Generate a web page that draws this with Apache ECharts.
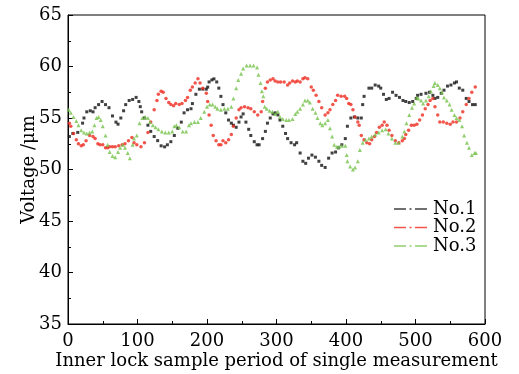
<!DOCTYPE html>
<html><head><meta charset="utf-8">
<script src="https://cdn.jsdelivr.net/npm/echarts@6/dist/echarts.min.js"></script>
<style>html,body{margin:0;padding:0;background:#fff}#c{width:519px;height:374px}</style>
</head><body><div id="c"></div>
<script>
var xTicks = [0,100,200,300,400,500,600];
var yTicks = [35,40,45,50,55,60,65];
var seriesNames = ['No.1','No.2','No.3'];

var n1X = [2,7,14,21,23,27,32,36,39,44,49,54,59,64,69,72,76,80,83,88,93,98,102,104,106,110,115,119,124,129,134,139,143,148,153,158,163,167,172,177,179,184,189,194,199,201,203,207,210,214,217,220,223,227,231,235,238,242,246,249,252,256,260,263,268,272,275,280,284,287,291,295,298,302,305,309,313,316,321,326,329,334,338,342,346,351,356,361,365,370,375,380,385,389,394,399,402,407,412,417,422,424,426,433,437,442,447,450,454,458,462,467,472,477,482,486,491,496,501,503,508,515,520,525,528,532,537,541,546,551,556,559,563,568,573,577,582,586];
var n1Y = [53.2,53.5,53.6,54.5,55.0,55.6,55.7,55.6,56.0,56.3,56.6,56.3,56.0,55.2,54.6,54.4,55.0,55.7,56.3,56.7,56.8,57.0,56.6,56.1,55.6,55.0,54.3,53.7,53.2,52.8,52.3,52.2,52.4,52.7,53.3,54.0,54.6,55.5,55.8,55.9,56.4,57.3,57.8,57.8,57.8,58.0,58.5,58.7,58.8,58.5,57.9,57.1,56.3,55.5,54.8,54.5,54.3,54.1,54.6,55.1,55.4,54.6,53.9,53.3,52.7,52.4,52.4,53.0,53.7,54.5,55.0,55.4,55.5,55.3,54.8,54.2,53.5,53.0,52.6,52.4,52.6,51.6,50.8,50.6,51.1,51.4,51.2,50.8,50.4,50.2,51.1,51.6,51.7,52.1,52.4,53.0,54.2,55.0,55.1,55.0,55.0,56.3,57.1,57.9,57.9,58.2,58.1,57.9,57.3,56.8,56.9,57.5,57.2,57.0,56.7,56.6,56.5,56.6,56.9,57.2,57.3,57.4,57.5,57.2,56.9,57.0,57.4,57.7,58.1,58.2,58.4,58.5,57.9,57.7,56.9,56.6,56.3,56.3];

var n2X = [2,4,8,12,15,19,22,26,31,36,39,43,46,50,54,57,60,64,68,73,78,82,87,92,95,99,105,110,115,119,124,128,130,134,137,141,145,148,152,155,160,164,169,172,176,179,183,187,190,194,199,201,203,206,209,213,217,220,223,227,231,235,238,242,246,249,254,259,263,268,273,278,280,284,287,291,295,298,302,306,311,316,319,323,327,330,334,338,341,345,350,353,357,361,365,370,374,377,381,385,388,393,398,401,404,407,410,413,417,419,422,426,430,434,437,441,444,448,452,455,459,462,466,471,476,481,484,486,490,494,498,502,506,510,514,518,521,525,528,532,535,540,545,550,554,559,564,568,573,577,581,586];
var n2Y = [54.5,54.2,53.5,52.9,52.5,52.3,52.4,52.8,53.3,53.2,53.0,52.5,52.4,52.4,52.1,52.1,52.2,52.2,52.2,52.3,52.4,52.5,52.8,53.1,52.6,52.4,52.2,52.6,53.6,54.6,55.8,56.7,57.3,57.6,57.5,56.9,56.5,56.3,56.2,56.4,56.3,56.4,56.7,57.0,57.7,58.0,58.4,58.8,58.4,57.9,57.4,56.6,55.3,54.3,53.3,52.8,52.4,52.4,52.8,52.6,52.9,53.4,54.2,55.0,55.8,56.0,56.1,56.0,55.9,55.6,55.3,55.6,56.6,57.9,58.5,58.7,58.8,58.6,58.5,58.5,58.5,58.2,58.4,58.6,58.5,58.6,58.5,58.8,58.9,58.8,58.0,57.7,57.2,56.6,56.0,55.3,55.5,55.8,56.3,56.7,57.2,57.1,57.1,56.9,56.4,56.3,55.8,55.1,54.6,54.3,53.3,52.9,52.6,52.5,52.9,53.2,53.6,54.1,54.3,54.6,54.3,53.8,53.3,52.8,52.6,52.8,53.0,53.4,53.8,54.3,54.3,54.4,54.8,55.3,55.9,56.3,56.7,56.9,56.1,55.3,54.6,54.6,54.5,54.4,54.6,54.6,55.0,55.6,56.3,56.9,57.5,58.0];

var n3X = [1,4,8,12,15,19,23,27,31,35,38,41,44,47,50,54,57,60,64,68,72,75,79,82,86,89,93,95,99,103,107,111,115,118,122,126,130,135,140,145,150,153,156,160,165,170,174,177,182,187,191,196,200,204,208,212,215,220,225,230,235,238,242,245,249,252,257,262,267,272,274,277,279,281,283,286,290,294,298,302,305,309,314,318,323,327,330,334,338,341,345,348,352,356,359,363,366,370,374,377,380,383,387,390,394,399,401,402,406,410,413,417,420,424,428,433,437,442,447,452,457,461,466,471,476,481,484,487,491,495,498,502,504,508,511,515,519,522,526,528,532,535,538,541,545,549,552,556,559,563,567,570,574,577,581,585,587];
var n3Y = [55.8,55.5,55.1,54.7,54.3,53.8,53.6,53.5,53.6,53.7,54.3,55.0,55.1,54.8,54.2,53.3,52.4,51.7,51.3,51.2,51.7,52.1,52.4,52.1,51.6,51.1,52.4,53.0,53.3,54.5,55.0,55.1,55.0,54.6,54.3,54.1,53.9,53.7,53.6,53.6,53.7,54.2,54.3,54.1,53.7,53.7,54.3,54.5,54.6,54.6,55.0,55.6,56.1,56.3,56.3,56.1,55.9,55.8,55.9,55.9,56.1,56.9,57.9,58.7,59.3,59.8,60.1,60.1,60.1,59.9,59.2,58.4,57.6,57.1,56.1,55.9,55.7,55.6,55.4,55.6,55.1,54.9,54.8,54.8,54.9,55.4,55.6,55.9,56.3,56.7,56.7,56.5,55.9,55.5,55.0,54.5,54.3,54.5,54.8,54.0,53.2,52.4,52.2,52.2,52.3,52.3,51.4,50.8,50.3,50.0,50.2,50.8,51.9,52.6,52.9,53.0,53.2,53.4,53.6,53.8,53.9,53.5,53.0,52.6,52.6,53.2,53.7,54.5,55.3,56.0,56.4,57.0,56.9,56.7,56.4,56.7,57.1,57.6,58.1,58.4,58.2,57.9,57.5,57.0,56.7,56.3,55.8,55.3,55.0,54.8,54.2,53.3,52.6,52.1,51.4,51.6,51.6];

function zip(xs, ys) {
  var out = [], n = Math.min(xs.length, ys.length);
  for (var i = 0; i < n; i++) out.push([xs[i], ys[i]]);
  return out;
}

var FONT = 'DejaVu Serif';
var legendIcon = 'path://M0,0h12v1.6h-12z M15.5,0h2v1.6h-2z M21,0h12v1.6h-12z';

var chart = echarts.init(document.getElementById('c'), null, {renderer: 'canvas'});
chart.setOption({
  animation: false,
  backgroundColor: '#fff',
  grid: {left: 68, right: 34, top: 15, bottom: 50, show: true, borderColor: '#000', borderWidth: 1, backgroundColor: 'transparent', containLabel: false, outerBoundsMode: 'none'},
  legend: {
    orient: 'vertical', left: 389, top: 195,
    itemWidth: 33, itemHeight: 1.6, itemGap: 0.5,
    icon: legendIcon,
    textStyle: {fontFamily: FONT, fontSize: 18, color: '#000', lineHeight: 18, padding: [0,0,0,1]},
    data: seriesNames
  },
  xAxis: {
    type: 'value', min: xTicks[0], max: xTicks[xTicks.length-1], interval: 100,
    name: 'Inner lock sample period of single measurement',
    nameLocation: 'middle', nameGap: 28, nameMoveOverlap: false,
    nameTextStyle: {fontFamily: FONT, fontSize: 18, color: '#000'},
    axisLine: {show: true, lineStyle: {color: '#000', width: 1}},
    axisTick: {show: true, inside: true, length: 5, lineStyle: {color: '#000'}},
    minorTick: {show: true, splitNumber: 2, length: 3, lineStyle: {color: '#000'}},
    axisLabel: {fontFamily: FONT, fontSize: 18, color: '#000', margin: 8},
    splitLine: {show: false}
  },
  yAxis: {
    type: 'value', min: yTicks[0], max: yTicks[yTicks.length-1], interval: 5,
    name: 'Voltage /μm',
    nameLocation: 'middle', nameGap: 30, nameMoveOverlap: false,
    nameTextStyle: {fontFamily: FONT, fontSize: 18, color: '#000'},
    axisLine: {show: true, lineStyle: {color: '#000', width: 1}},
    axisTick: {show: true, inside: true, length: 5, lineStyle: {color: '#000'}},
    minorTick: {show: true, splitNumber: 2, length: 3, lineStyle: {color: '#000'}},
    axisLabel: {fontFamily: FONT, fontSize: 18, color: '#000', margin: 6},
    splitLine: {show: false}
  },
  series: [
    {name: seriesNames[0], type: 'scatter', symbol: 'rect', symbolSize: 3, itemStyle: {color: '#111'}, data: zip(n1X, n1Y)},
    {name: seriesNames[1], type: 'scatter', symbol: 'circle', symbolSize: 3.5, itemStyle: {color: '#ee2a1e'}, data: zip(n2X, n2Y)},
    {name: seriesNames[2], type: 'scatter', symbol: 'triangle', symbolSize: 4, itemStyle: {color: '#74c24a'}, data: zip(n3X, n3Y)}
  ]
});
</script></body></html>
